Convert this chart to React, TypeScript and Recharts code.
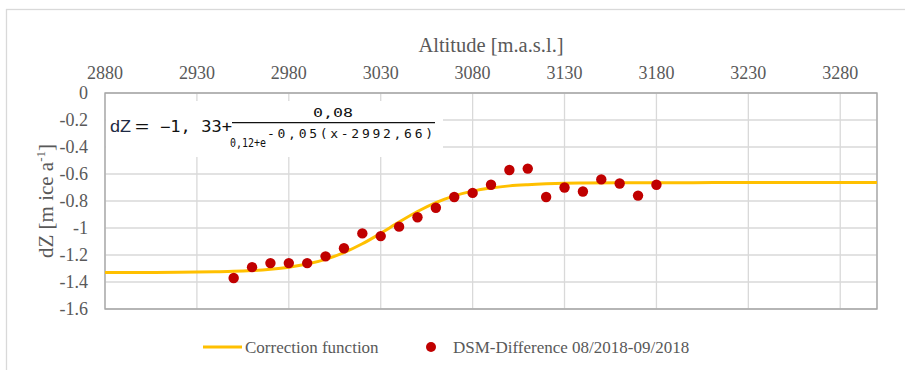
import React from 'react';
import {
  ComposedChart,
  Line,
  Scatter,
  XAxis,
  YAxis,
  CartesianGrid,
  ReferenceArea,
} from 'recharts';

// Altitude ticks (top axis) and dZ ticks (left axis)
const altitudeTicks = [2880, 2930, 2980, 3030, 3080, 3130, 3180, 3230, 3280];
const dzTicks = [0, -0.2, -0.4, -0.6, -0.8, -1, -1.2, -1.4, -1.6];

// DSM-Difference 08/2018-09/2018 (points)
const dsmAltitude = [
  2950, 2960, 2970, 2980, 2990, 3000, 3010, 3020, 3030, 3040, 3050, 3060,
  3070, 3080, 3090, 3100, 3110, 3120, 3130, 3140, 3150, 3160, 3170, 3180,
];
const dsmValue = [
  -1.37, -1.29, -1.26, -1.26, -1.26, -1.21, -1.15, -1.04, -1.06, -0.99, -0.92, -0.85,
  -0.77, -0.74, -0.68, -0.57, -0.56, -0.77, -0.70, -0.73, -0.64, -0.67, -0.76, -0.68,
];

// Correction function (curve)
const fitAltitude = [
  2880, 2900, 2920, 2940, 2950, 2960, 2970, 2980, 2990, 3000, 3010, 3020, 3030,
  3040, 3050, 3060, 3070, 3080, 3090, 3100, 3110, 3120, 3130, 3140, 3160, 3200,
  3250, 3300,
];
const fitValue = [
  -1.33, -1.329, -1.328, -1.324, -1.321, -1.315, -1.305, -1.29, -1.267, -1.232,
  -1.182, -1.117, -1.039, -0.956, -0.878, -0.812, -0.762, -0.727, -0.704, -0.688,
  -0.679, -0.673, -0.669, -0.667, -0.665, -0.664, -0.663, -0.663,
];

const dsmData = dsmAltitude.map((x, i) => ({ x, y: dsmValue[i] }));
const fitData = fitAltitude.map((x, i) => ({ x, y: fitValue[i] }));

const GOLD = '#FFC000';
const RED = '#C00000';
const TEXT = '#595959';
const SERIF = '"Liberation Serif", "Times New Roman", serif';
const MONO = '"DejaVu Sans Mono", monospace';

const tickStyle = { fill: TEXT, fontSize: 18, fontFamily: SERIF };

const XTitle = (props: any) => {
  const vb = props.viewBox || { x: 105, width: 772 };
  return (
    <text
      x={vb.x + vb.width / 2}
      y={52}
      textAnchor="middle"
      fill={TEXT}
      fontSize={20.5}
      fontFamily={SERIF}
    >
      Altitude [m.a.s.l.]
    </text>
  );
};

const YTitle = (props: any) => {
  const vb = props.viewBox || { y: 93, height: 216 };
  const cy = vb.y + vb.height / 2;
  const cx = 53;
  return (
    <text
      x={cx}
      y={cy}
      transform={`rotate(-90, ${cx}, ${cy})`}
      textAnchor="middle"
      fill={TEXT}
      fontSize={21}
      fontFamily={SERIF}
    >
      dZ [m ice a
      <tspan dy={-8} fontSize={13}>-1</tspan>
      <tspan dy={8}>]</tspan>
    </text>
  );
};

const Dot = (props: any) => {
  const { cx, cy } = props;
  if (cx == null || cy == null) return null;
  return <circle cx={cx} cy={cy} r={5.2} fill={RED} />;
};

export default function App() {
  return (
    <div
      style={{
        position: 'fixed',
        left: 0,
        top: 0,
        width: 905,
        height: 370,
        background: '#fff',
        overflow: 'hidden',
      }}
    >
      <div style={{ position: 'absolute', left: 0, top: 0 }}>
        <ComposedChart
          width={905}
          height={370}
          margin={{ top: 0, right: 28, bottom: 61, left: 0 }}
        >
          <CartesianGrid stroke="#D9D9D9" strokeWidth={1.3} />
          <XAxis
            xAxisId={0}
            dataKey="x"
            type="number"
            orientation="top"
            height={93}
            domain={[2880, 3300]}
            ticks={altitudeTicks}
            allowDataOverflow
            axisLine={false}
            tickLine={false}
            tickSize={0}
            tickMargin={14}
            tick={tickStyle}
            interval={0}
            label={<XTitle />}
          />
          <YAxis
            yAxisId={0}
            dataKey="y"
            type="number"
            width={105}
            domain={[-1.6, 0]}
            ticks={dzTicks}
            allowDataOverflow
            axisLine={false}
            tickLine={false}
            tickSize={0}
            tickMargin={17}
            tick={tickStyle}
            interval={0}
            label={<YTitle />}
          />
          <ReferenceArea
            x1={2880}
            x2={3300}
            y1={-1.6}
            y2={0}
            fill="none"
            fillOpacity={0}
            stroke="#A6A6A6"
            strokeWidth={1.3}
          />
          <Line
            data={fitData}
            dataKey="y"
            type="monotone"
            stroke={GOLD}
            strokeWidth={3}
            dot={false}
            activeDot={false}
            isAnimationActive={false}
            name="Correction function"
          />
          <Scatter
            data={dsmData}
            dataKey="y"
            fill={RED}
            shape={<Dot />}
            isAnimationActive={false}
            name="DSM-Difference 08/2018-09/2018"
          />
        </ComposedChart>
      </div>
      <svg
        width={905}
        height={370}
        style={{ position: 'absolute', left: 0, top: 0, pointerEvents: 'none' }}
      >
        {/* outer chart border */}
        <rect x={6.5} y={9.5} width={1000} height={1000} fill="none" stroke="#D9D9D9" strokeWidth={1.3} />
        {/* formula box */}
        <rect x={106} y={101} width={337} height={56} fill="#fff" />
        <text x={110} y={132} fontSize={16} fontFamily='"Liberation Sans", Arial, sans-serif' fill="#1F2A44" textLength={21} lengthAdjust="spacingAndGlyphs">dZ</text>
        <text x={135} y={132} fontSize={16} fontFamily='"Liberation Sans", Arial, sans-serif' fill="#111" textLength={14} lengthAdjust="spacingAndGlyphs">=</text>
        <text x={160} y={132} fontSize={15} fontFamily={MONO} fill="#111" textLength={72} lengthAdjust="spacingAndGlyphs">−1, 33+</text>
        <text x={313} y={117} fontSize={13} fontFamily={MONO} fill="#111" textLength={40} lengthAdjust="spacingAndGlyphs">0,08</text>
        <line x1={232} y1={122.7} x2={435} y2={122.7} stroke="#111" strokeWidth={1.3} />
        <text x={230} y={147} fontSize={11.5} fontFamily={MONO} fill="#111" textLength={36} lengthAdjust="spacingAndGlyphs">0,12+e</text>
        <text x={267} y={137.5} fontSize={13} fontFamily={MONO} fill="#111" textLength={166} lengthAdjust="spacing">-0,05(x-2992,66)</text>
        {/* legend */}
        <line x1={203} y1={347} x2={242} y2={347} stroke={GOLD} strokeWidth={3} />
        <text x={245} y={353} fontSize={17} fontFamily={SERIF} fill={TEXT}>Correction function</text>
        <circle cx={431} cy={347} r={5} fill={RED} />
        <text x={453} y={353} fontSize={17} fontFamily={SERIF} fill={TEXT}>DSM-Difference 08/2018-09/2018</text>
      </svg>
    </div>
  );
}
